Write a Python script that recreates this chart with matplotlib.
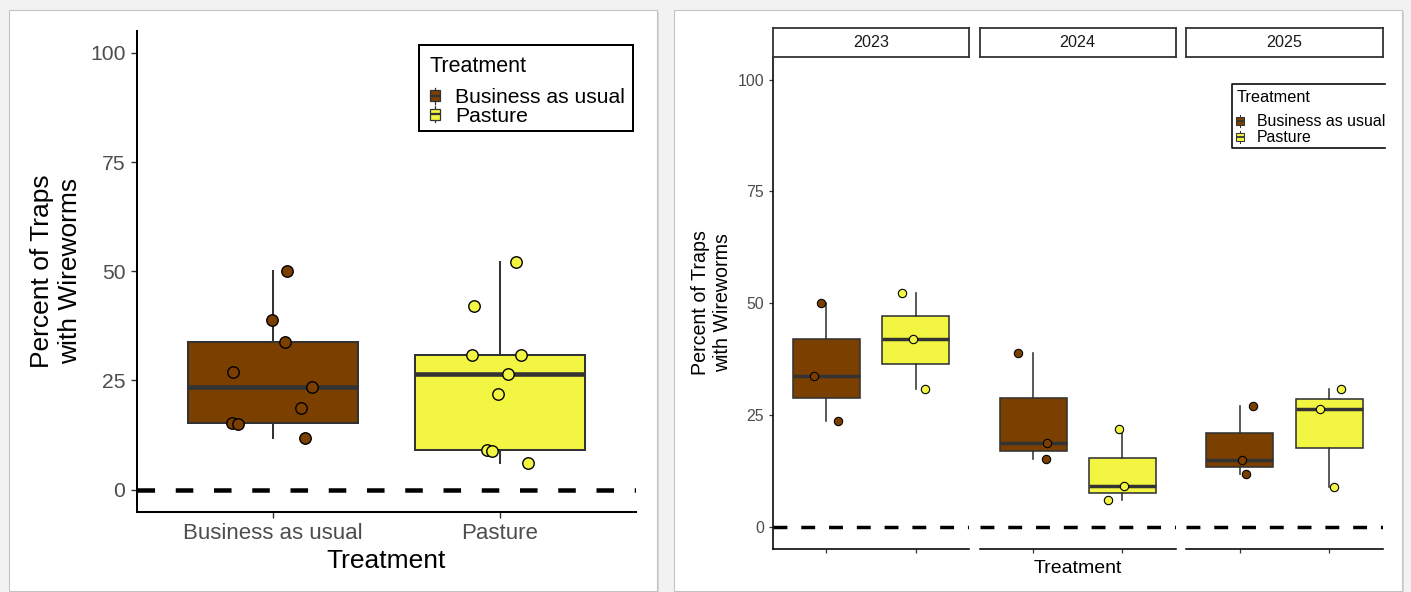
import matplotlib
matplotlib.use("Agg")
import matplotlib.pyplot as plt
from matplotlib.patches import Rectangle
from matplotlib.lines import Line2D
from matplotlib.transforms import Affine2D
import numpy as np

# ---------------- data ----------------
treatments = ["Business as usual", "Pasture"]
years = ["2023", "2024", "2025"]
y_ticks = [0, 25, 50, 75, 100]

bau_by_year = {
    "2023": [50.0, 33.8, 23.6],
    "2024": [38.8, 18.7, 15.2],
    "2025": [26.9, 15.0, 11.8],
}
pasture_by_year = {
    "2023": [52.2, 42.0, 30.8],
    "2024": [21.9, 9.0, 6.0],
    "2025": [30.8, 26.4, 8.8],
}
# horizontal jitter (category units)
bau_jitter_by_year = {
    "2023": [-0.063, -0.136, 0.129],
    "2024": [-0.170, 0.161, 0.139],
    "2025": [0.153, 0.028, 0.065],
}
pasture_jitter_by_year = {
    "2023": [-0.154, -0.025, 0.107],
    "2024": [-0.033, 0.022, -0.162],
    "2025": [0.127, -0.100, 0.050],
}
bau_all = bau_by_year["2023"] + bau_by_year["2024"] + bau_by_year["2025"]
pasture_all = pasture_by_year["2023"] + pasture_by_year["2024"] + pasture_by_year["2025"]
bau_all_jitter = [0.062, 0.052, 0.172, -0.007, 0.124, -0.179, -0.175, -0.156, 0.140]
pasture_all_jitter = [0.073, -0.115, -0.121, -0.008, -0.059, 0.124, 0.092, 0.036, -0.037]

colors = {"Business as usual": "#7B3F00", "Pasture": "#F2F542"}

# ---------------- figure ----------------
W, H = 1411, 592
plt.rcParams["font.family"] = ["Liberation Sans", "DejaVu Sans"]
fig = plt.figure(figsize=(W / 100, H / 100), dpi=100, facecolor="#f2f2f2")
px = Affine2D().scale(1 / W, -1 / H).translate(0, 1) + fig.transFigure


def rect(l, t, r, b):
    return [l / W, 1 - b / H, (r - l) / W, (b - t) / H]


# cards
for (l, t, r, b) in [(9, 10, 657, 591), (674, 10, 1402, 591)]:
    fig.patches.append(Rectangle((l + 2, t + 2), r - l, b - t, transform=px,
                                 facecolor="#d6d6d6", edgecolor="none", zorder=-3))
    fig.patches.append(Rectangle((l, t), r - l, b - t, transform=px,
                                 facecolor="white", edgecolor="#c4c4c4", lw=0.8, zorder=-2))

TXT = "#4d4d4d"
EDGE = "#333333"


def draw_boxes(ax, groups, jitters, lw_box, lw_med, ms, mew):
    bp = ax.boxplot(groups, positions=[1, 2], widths=0.75, patch_artist=True,
                    showfliers=False, whis=1.5,
                    boxprops=dict(edgecolor=EDGE, linewidth=lw_box),
                    whiskerprops=dict(color=EDGE, linewidth=lw_box),
                    capprops=dict(linewidth=0),
                    medianprops=dict(color=EDGE, linewidth=lw_med, solid_capstyle="butt"),
                    zorder=2)
    for patch, t in zip(bp["boxes"], treatments):
        patch.set_facecolor(colors[t])
    for i, (vals, jit, t) in enumerate(zip(groups, jitters, treatments)):
        xs = np.array(jit) + (i + 1)
        ax.scatter(xs, vals, s=ms, facecolor=colors[t], edgecolor="black",
                   linewidth=mew, zorder=4, clip_on=False)


def draw_key(xc, yc, color, w, h, ext, lw, mlw):
    fig.lines.append(Line2D([xc, xc], [yc - h / 2 - ext, yc + h / 2 + ext], transform=px,
                            color=EDGE, lw=lw, zorder=5))
    fig.patches.append(Rectangle((xc - w / 2, yc - h / 2), w, h, transform=px,
                                 facecolor=color, edgecolor=EDGE, lw=lw, zorder=6))
    fig.lines.append(Line2D([xc - w / 2, xc + w / 2], [yc, yc], transform=px,
                            color=EDGE, lw=mlw, zorder=7, solid_capstyle="butt"))


# ---------------- left panel ----------------
axL = fig.add_axes(rect(137, 31.05, 636, 511.5))
axL.set_facecolor("white")
axL.set_xlim(0.4, 2.6)
axL.set_ylim(-5, 105)
axL.axhline(0, color="black", lw=3.24, ls=(0, (3.9, 4.6)), zorder=1)
draw_boxes(axL, [bau_all, pasture_all], [bau_all_jitter, pasture_all_jitter],
           lw_box=1.45, lw_med=3.3, ms=68, mew=1.0)
for s in ["top", "right"]:
    axL.spines[s].set_visible(False)
for s in ["left", "bottom"]:
    axL.spines[s].set_linewidth(1.45)
    axL.spines[s].set_color("black")
axL.set_yticks(y_ticks)
axL.set_yticklabels([str(v) for v in y_ticks])
axL.set_xticks([1, 2])
axL.set_xticklabels(treatments)
axL.tick_params(axis="y", length=4, width=1.0, color=EDGE, pad=4.3, labelsize=15.2, labelcolor=TXT)
axL.tick_params(axis="x", length=4, width=1.0, color=EDGE, pad=4.5, labelsize=16, labelcolor=TXT)
fig.text(386.5, 568, "Treatment", transform=px, ha="center", va="baseline", fontsize=19, color="black")
fig.text(56, 271, "Percent of Traps\nwith Wireworms", transform=px, ha="center", va="center",
         rotation=90, multialignment="center", fontsize=19, color="black")

# left legend
fig.patches.append(Rectangle((419, 45), 213.7, 85.7, transform=px, facecolor="white",
                             edgecolor="black", lw=1.45, zorder=4))
fig.text(429, 71.5, "Treatment", transform=px, ha="left", va="baseline", fontsize=15.5, color="black", zorder=8)
for t, yc, yb in zip(treatments, [95.5, 114.2], [103.3, 121.7]):
    draw_key(435, yc, colors[t], 10, 11, 2.5, 0.9, 1.6)
    fig.text(455, yb, t, transform=px, ha="left", va="baseline", fontsize=15.2, color="black", zorder=8)

# ---------------- right panels ----------------
panels = [(773, 969), (979.5, 1176), (1186, 1383)]
ptop, pbot = 57.4, 548.9
for k, (yr, (l, r)) in enumerate(zip(years, panels)):
    ax = fig.add_axes(rect(l, ptop, r, pbot))
    ax.set_facecolor("white")
    ax.set_xlim(0.4, 2.6)
    ax.set_ylim(-5, 105)
    ax.axhline(0, color="black", lw=2.5, ls=(0, (4, 4)), zorder=1)
    draw_boxes(ax, [bau_by_year[yr], pasture_by_year[yr]],
               [bau_jitter_by_year[yr], pasture_jitter_by_year[yr]],
               lw_box=1.15, lw_med=2.5, ms=36, mew=0.8)
    for s in ["top", "right"]:
        ax.spines[s].set_visible(False)
    ax.spines["bottom"].set_linewidth(1.15)
    ax.spines["bottom"].set_color("black")
    ax.set_xticks([1, 2])
    ax.set_xticklabels([])
    ax.tick_params(axis="x", length=3.2, width=0.9, color=EDGE)
    if k == 0:
        ax.spines["left"].set_linewidth(1.15)
        ax.spines["left"].set_color("black")
        ax.set_yticks(y_ticks)
        ax.set_yticklabels([str(v) for v in y_ticks])
        ax.tick_params(axis="y", length=3.2, width=0.9, color=EDGE, pad=3.3,
                       labelsize=11.4, labelcolor=TXT)
    else:
        ax.spines["left"].set_visible(False)
        ax.set_yticks([])
    # strip
    sax = fig.add_axes(rect(l, 28, r, 56.6))
    sax.set_facecolor("white")
    sax.set_xticks([])
    sax.set_yticks([])
    for s in sax.spines.values():
        s.set_linewidth(1.3)
        s.set_color(EDGE)
    sax.text(0.5, 0.5, yr, transform=sax.transAxes, ha="center", va="center",
             fontsize=11.6, color="#1a1a1a")

fig.text(1078, 573, "Treatment", transform=px, ha="center", va="baseline", fontsize=14, color="black")
fig.text(712, 303, "Percent of Traps\nwith Wireworms", transform=px, ha="center", va="center",
         rotation=90, multialignment="center", fontsize=14.1, color="black")

# right legend (clipped at the right edge of the plot image)
fig.patches.append(Rectangle((1231.7, 84.3), 153, 63.4, transform=px, facecolor="white",
                             edgecolor="none", zorder=4))
fig.lines.append(Line2D([1384.5, 1231.7, 1231.7, 1384.5], [84.3, 84.3, 147.7, 147.7],
                        transform=px, color="black", lw=1.15, zorder=5))
fig.text(1236.7, 102.5, "Treatment", transform=px, ha="left", va="baseline", fontsize=11.7,
         color="black", zorder=8)
for t, yc, yb in zip(treatments, [121.0, 137.0], [126.5, 142.0]):
    draw_key(1240, yc, colors[t], 7.5, 8, 2, 0.75, 1.3)
    fig.text(1256.7, yb, t, transform=px, ha="left", va="baseline", fontsize=11.4,
             color="black", zorder=8)

fig.savefig("out.png", dpi=100, facecolor=fig.get_facecolor())
